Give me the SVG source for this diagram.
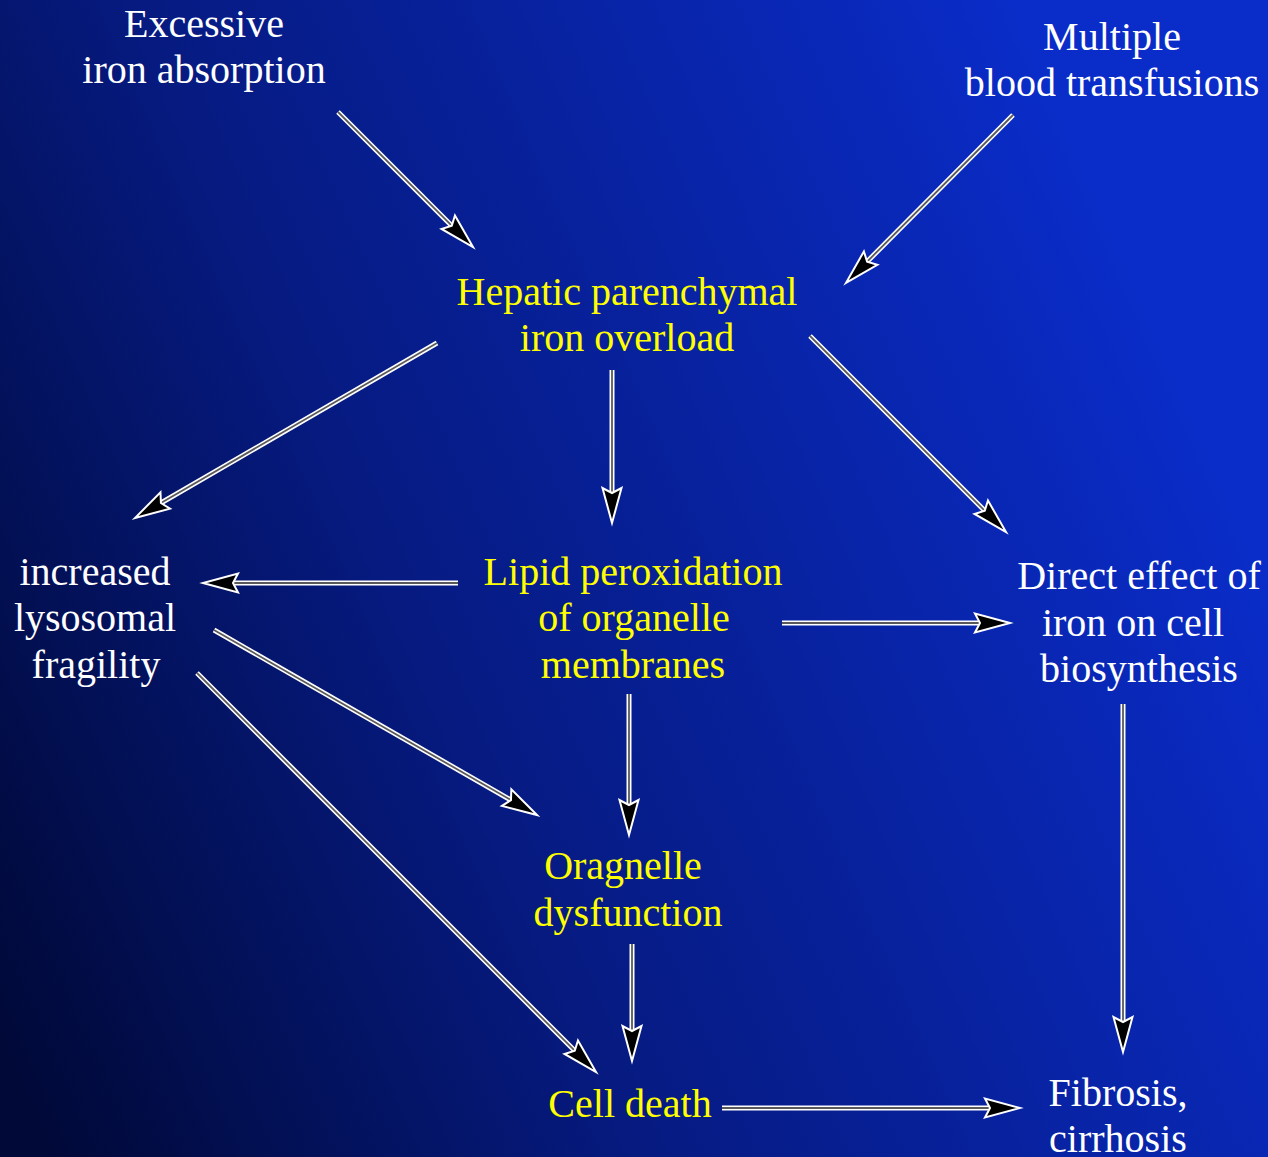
<svg xmlns="http://www.w3.org/2000/svg" width="1268" height="1157" viewBox="0 0 1268 1157">
<defs>
<linearGradient id="bg" x1="0" y1="0.9" x2="1" y2="0.5">
<stop offset="0" stop-color="#000938"/>
<stop offset="0.4" stop-color="#061a80"/>
<stop offset="1" stop-color="#0a2cc8"/>
</linearGradient>
<marker id="ah" markerUnits="userSpaceOnUse" markerWidth="60" markerHeight="40" viewBox="-10 -20 60 40" refX="0" refY="0" orient="auto" overflow="visible">
<path d="M28,0 L-7,-9.5 L-2,0 L-7,9.5 Z" fill="#000" stroke="#fff" stroke-width="2" stroke-linejoin="miter"/>
</marker>
<style>
.s{stroke:#fff;stroke-width:5;fill:none}
.c{stroke:#5a5a5a;stroke-width:1.8;fill:none}
text{font-family:"Liberation Serif","Times New Roman",serif;font-size:40px;text-anchor:middle}
.w{fill:#fff}
.y{fill:#ffff00}
</style>
</defs>
<rect width="1268" height="1157" fill="url(#bg)"/>
<g id="connectors">
<line class="s" x1="338" y1="112" x2="453.2" y2="227.2"/><line class="c" x1="338" y1="112" x2="453.2" y2="227.2" marker-end="url(#ah)"/>
<line class="s" x1="1013" y1="115" x2="865.7" y2="263.1"/><line class="c" x1="1013" y1="115" x2="865.7" y2="263.1" marker-end="url(#ah)"/>
<line class="s" x1="437" y1="343" x2="159.2" y2="504"/><line class="c" x1="437" y1="343" x2="159.2" y2="504" marker-end="url(#ah)"/>
<line class="s" x1="612" y1="370" x2="612" y2="495"/><line class="c" x1="612" y1="370" x2="612" y2="495" marker-end="url(#ah)"/>
<line class="s" x1="810" y1="336" x2="986.2" y2="512.2"/><line class="c" x1="810" y1="336" x2="986.2" y2="512.2" marker-end="url(#ah)"/>
<line class="s" x1="458" y1="583" x2="231" y2="583"/><line class="c" x1="458" y1="583" x2="231" y2="583" marker-end="url(#ah)"/>
<line class="s" x1="782" y1="623" x2="982" y2="623"/><line class="c" x1="782" y1="623" x2="982" y2="623" marker-end="url(#ah)"/>
<line class="s" x1="629" y1="694" x2="629" y2="807"/><line class="c" x1="629" y1="694" x2="629" y2="807" marker-end="url(#ah)"/>
<line class="s" x1="214" y1="630" x2="512.7" y2="801.1"/><line class="c" x1="214" y1="630" x2="512.7" y2="801.1" marker-end="url(#ah)"/>
<line class="s" x1="197" y1="673" x2="576.2" y2="1052.2"/><line class="c" x1="197" y1="673" x2="576.2" y2="1052.2" marker-end="url(#ah)"/>
<line class="s" x1="632" y1="944" x2="632" y2="1033"/><line class="c" x1="632" y1="944" x2="632" y2="1033" marker-end="url(#ah)"/>
<line class="s" x1="1123" y1="704" x2="1123" y2="1024"/><line class="c" x1="1123" y1="704" x2="1123" y2="1024" marker-end="url(#ah)"/>
<line class="s" x1="722" y1="1108" x2="992" y2="1108"/><line class="c" x1="722" y1="1108" x2="992" y2="1108" marker-end="url(#ah)"/>
</g>
<g id="excessive"><text class="w" x="204" y="37">Excessive</text><text class="w" x="204" y="83">iron absorption</text></g>
<g id="multiple"><text class="w" x="1112" y="50">Multiple</text><text class="w" x="1112" y="96">blood transfusions</text></g>
<g id="hepatic"><text class="y" x="627" y="305">Hepatic parenchymal</text><text class="y" x="627" y="351">iron overload</text></g>
<g id="lysosomal"><text class="w" x="95" y="585">increased</text><text class="w" x="95" y="631">lysosomal</text><text class="w" x="96" y="678">fragility</text></g>
<g id="lipid"><text class="y" x="633" y="585">Lipid peroxidation</text><text class="y" x="634" y="631">of organelle</text><text class="y" x="633" y="678">membranes</text></g>
<g id="direct"><text class="w" x="1139" y="589">Direct effect of</text><text class="w" x="1133" y="636">iron on cell</text><text class="w" x="1139" y="682">biosynthesis</text></g>
<g id="organelle"><text class="y" x="623" y="879">Oragnelle</text><text class="y" x="628" y="926">dysfunction</text></g>
<g id="celldeath"><text class="y" x="630" y="1117">Cell death</text></g>
<g id="fibrosis"><text class="w" x="1118" y="1106">Fibrosis,</text><text class="w" x="1118" y="1152">cirrhosis</text></g>
</svg>
